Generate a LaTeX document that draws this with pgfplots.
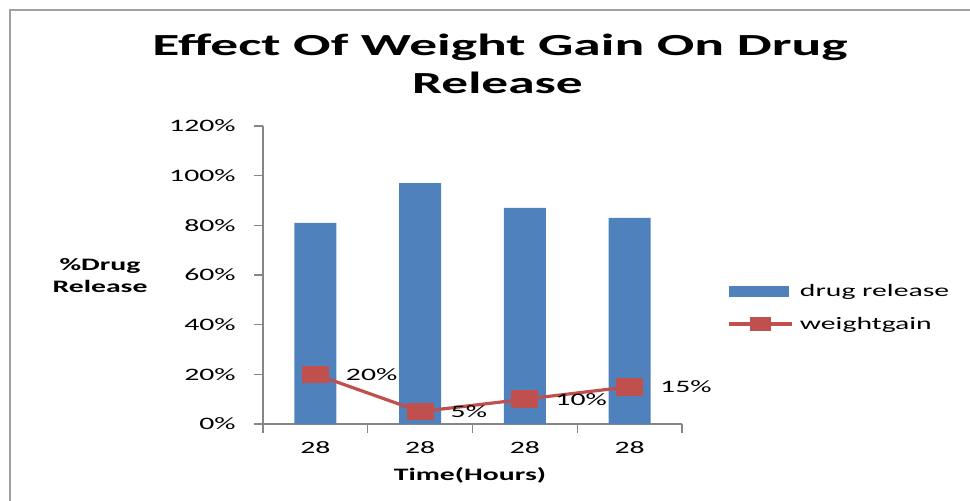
\documentclass[border=0pt]{standalone}
\usepackage{fontspec}
\setmainfont{Carlito}[Numbers=Monospaced]
\usepackage{graphicx}
\usepackage{pgfplots}
\pgfplotsset{compat=1.18}
\definecolor{barblue}{HTML}{4F81BD}
\definecolor{linered}{HTML}{C0504D}
\definecolor{axgray}{HTML}{868686}
\definecolor{framegray}{HTML}{A0A0A0}
\newcommand\smallf{\fontsize{13.1}{16.5}\selectfont}
\newcommand\sx[1]{\scalebox{1.7}[1]{\smallf #1}}
\newcommand\sxb[1]{\scalebox{1.7}[1]{\smallf\bfseries #1}}
\begin{document}
\begin{tikzpicture}
\useasboundingbox (0,0) rectangle (727.5pt,-375pt);
\draw[framegray, line width=2.2pt] (7.5pt,-380pt) -- (7.5pt,-7.5pt) -- (735pt,-7.5pt);
\node[anchor=base, inner sep=0pt, font=\fontsize{23}{27}\selectfont\bfseries] at (375pt,-41.25pt) {\scalebox{1.81}[1]{Effect Of Weight Gain On Drug}};
\node[anchor=base, inner sep=0pt, font=\fontsize{23}{27}\selectfont\bfseries] at (373.1pt,-69.75pt) {\scalebox{1.74}[1]{Release}};
\begin{axis}[
  at={(197.25pt,-318pt)}, anchor=south west,
  scale only axis, width=314.25pt, height=223.5pt,
  xmin=0.5, xmax=4.5, ymin=0, ymax=120,
  clip=false,
  axis x line=bottom, axis y line=left,
  axis line style={-, axgray, line width=0.8pt},
  tick style={axgray, line width=0.8pt},
  tick align=outside,
  major tick length=6.5pt,
  xtick={0.5,1.5,2.5,3.5,4.5}, xticklabels={},
  extra x ticks={1,2,3,4},
  extra x tick labels={\sx{28},\sx{28},\sx{28},\sx{28}},
  extra x tick style={major tick length=0pt, xticklabel style={yshift=-9.5pt}},
  ytick={0,20,40,60,80,100,120},
  yticklabels={\sx{0\%},\sx{20\%},\sx{40\%},\sx{60\%},\sx{80\%},\sx{100\%},\sx{120\%}},
  yticklabel style={xshift=-10.5pt},
  tick label style={font=\smallf, black},
  minor tick num=0,
  xlabel={\sxb{Time(Hours)}},
  x label style={at={(axis description cs:0.494,-0.171)}, anchor=center, font=\smallf\bfseries},
  ylabel={\sxb{\%Drug}\\\sxb{Release}},
  y label style={at={(axis description cs:-0.389,0.497)}, anchor=center, rotate=-90, align=center, font=\smallf\bfseries},
  legend style={draw=none, fill=none, at={(1.107,0.39)}, anchor=west, font=\smallf,
    row sep=13.8pt, column sep=5pt, inner sep=0pt, nodes={inner sep=0pt}},
  legend cell align=left,
]
\addplot[ybar, bar width=31.5pt, fill=barblue, draw=none,
  legend image code/.code={\fill[barblue] (0pt,-4.1pt) rectangle (45pt,4.1pt);}]
  coordinates {(1,81) (2,97) (3,87) (4,83)};
\addlegendentry{\sx{drug release}}
\addplot[linered, line width=2.4pt, mark=square*, mark size=5.4pt,
  mark options={xscale=1.65, fill=linered, draw=none},
  nodes near coords, point meta=explicit symbolic,
  nodes near coords align={horizontal},
  every node near coord/.append style={anchor=west, xshift=21.75pt, yshift=0pt, inner sep=0pt, black, font=\smallf},
  legend image code/.code={\draw[linered, line width=2.4pt] (0pt,0pt) -- (47.25pt,0pt);
    \fill[linered] (16.85pt,-4.1pt) rectangle (30.35pt,4.1pt);}]
  coordinates {(1,20)[\sx{20\%}] (2,5)[\sx{5\%}] (3,10)[\sx{10\%}] (4,15)[\sx{15\%}]};
\addlegendentry{\sx{weightgain}}
\end{axis}
\end{tikzpicture}
\end{document}
